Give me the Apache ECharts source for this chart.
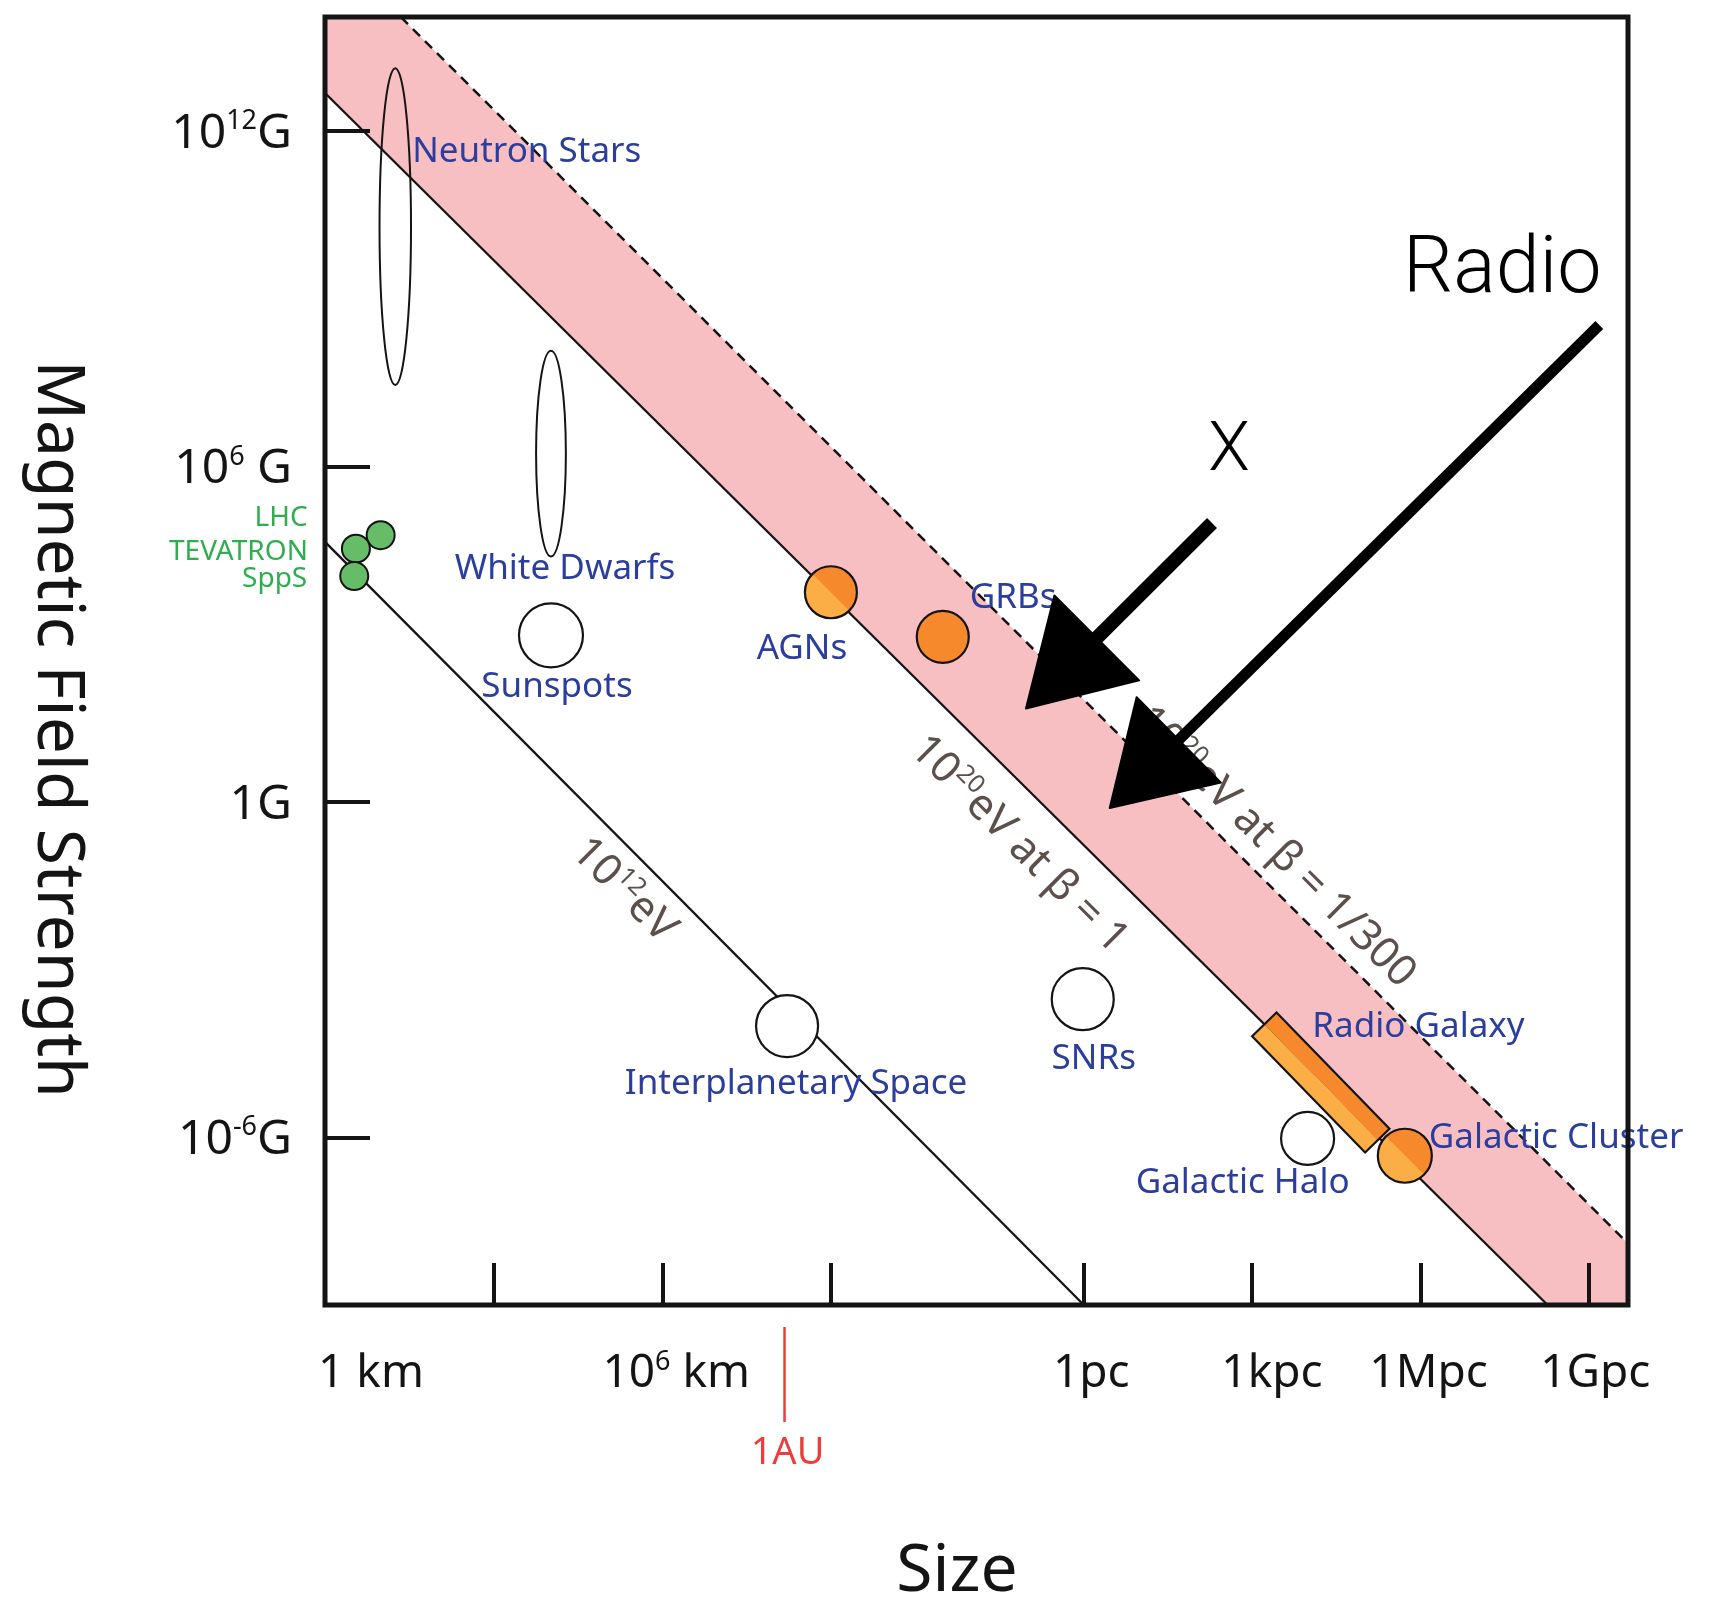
<!DOCTYPE html>
<html>
<head>
<meta charset="utf-8">
<script src="https://cdn.jsdelivr.net/npm/echarts@6.0.0/dist/echarts.min.js"></script>
<style>
html, body { margin:0; padding:0; background:#ffffff; }
#chart { width:1716px; height:1615px; }
</style>
</head>
<body>
<div id="chart"></div>
<script>
// ---------------- DATA ----------------
// x: log10(size / km), y: log10(B / gauss)
const xTickValues = [3, 6, 9, 13.49, 16.49, 19.49, 22.49];
const xLabelValues = [0, 6, 13.49, 16.49, 19.49, 22.49];
const xLabelTexts = ['1 km', '10^6 km', '1pc', '1kpc', '1Mpc', '1Gpc'];
const yTickValues = [12, 6, 0, -6];
const yLabelTexts = ['10^12G', '10^6 G', '1G', '10^-6G'];

const hillas12eV = [[0, 4.65], [13.5, -9]];
const hillas20eV = [[0, 12.68], [21.75, -9]];
const hillas20eVslow = [[1.35, 14.04], [23.18, -7.9]];
const bandVertices = [[0, 14.04], [0, 12.68], [21.75, -9], [23.18, -9], [23.18, -7.9], [1.35, 14.04]];

const ellipseNames = ['Neutron Stars', 'White Dwarfs'];
const ellipseLogR = [1.25, 4.02];
const ellipseLogB = [10.29, 6.23];
const ellipseSpanR = [0.56, 0.53];
const ellipseSpanB = [5.67, 3.68];

const accelNames = ['LHC', 'TEVATRON', 'SppS'];
const accelLogR = [0.99, 0.55, 0.52];
const accelLogB = [4.77, 4.53, 4.04];

const whiteNames = ['Sunspots', 'Interplanetary Space', 'SNRs', 'Galactic Halo'];
const whiteLogR = [4.02, 8.22, 13.48, 17.48];
const whiteLogB = [2.98, -4.01, -3.53, -6.02];

const orangeNames = ['AGNs', 'GRBs', 'Galactic Cluster'];
const orangeLogR = [9.0, 10.99, 19.21];
const orangeLogB = [3.75, 2.95, -6.33];

const radioGalaxyName = 'Radio Galaxy';
const radioGalaxyLogR = [16.71, 18.72];
const radioGalaxyLogB = [-3.98, -6.06];

const auLogKm = 8.175;

const lineLabelTexts = ['10^12eV', '10^20eV at β = 1', '10^20eV at β = 1/300'];
const lineLabelLogR = [5.35, 12.38, 16.93];
const lineLabelLogB = [-1.55, -0.73, -0.78];

const arrowTexts = ['X', 'Radio'];
const arrowTailLogR = [15.78, 22.67];
const arrowTailLogB = [4.99, 8.53];
const arrowTipLogR = [12.47, 13.96];
const arrowTipLogB = [1.67, -0.11];

// ---------------- STYLE ----------------
const FONT = '"Noto Sans", "Open Sans", "DejaVu Sans", sans-serif';
const THIN = 'Roboto, "Liberation Sans", sans-serif';
const INK = '#141414';
const BLUE = '#2b3d9d';
const GREEN = '#2fae50';
const GREY = '#5c504c';
const PINK = '#f8bfc3';
const ORANGE_DARK = '#f6892b';
const ORANGE_LIGHT = '#fbae45';
const GREEN_FILL = '#67bd67';
const AU_RED = '#ee3b3b';

const circleSize = {
  'Sunspots': 64, 'Interplanetary Space': 62, 'SNRs': 62, 'Galactic Halo': 53,
  'AGNs': 52, 'GRBs': 52, 'Galactic Cluster': 54,
  'LHC': 28, 'TEVATRON': 28, 'SppS': 28
};
const twoTone = { 'AGNs': true, 'GRBs': false, 'Galactic Cluster': true };

const labelLayout = {
  'Neutron Stars': { dx: 17, dy: -75, align: 'left' },
  'White Dwarfs': { dx: 14, dy: 115, align: 'center' },
  'Sunspots': { dx: 6, dy: 52, align: 'center' },
  'AGNs': { dx: -29, dy: 57, align: 'center' },
  'GRBs': { dx: 27, dy: -39, align: 'left' },
  'Interplanetary Space': { dx: 9, dy: 58, align: 'center' },
  'SNRs': { dx: 11, dy: 60, align: 'center' },
  'Galactic Halo': { dx: 42, dy: 45, align: 'right' },
  'Galactic Cluster': { dx: 24, dy: -18, align: 'left' },
  'Radio Galaxy': { dx: 48, dy: 3, align: 'left' },
  'LHC': { dx: -73, dy: -17, align: 'right', color: GREEN, size: 28 },
  'TEVATRON': { dx: -48, dy: 3, align: 'right', color: GREEN, size: 28 },
  'SppS': { dx: -47, dy: 3, align: 'right', color: GREEN, size: 28 }
};
const xLabelShift = [46, 14, 8, 20, 8, 6];
const arrowLayout = [
  { shaft: 14, headLen: 100, headHalf: 60, tdx: 17, tdy: -70, size: 68 },
  { shaft: 11, headLen: 97, headHalf: 60, tdx: -97, tdy: -53, size: 79 }
];

// ---------------- HELPERS ----------------
function supParts(t) {
  const m = t.match(/^(.*?)\^(-?\d+)(.*)$/);
  return m ? [m[1], m[2], m[3]] : [t, '', ''];
}
function richText(t, base, sup, lead) {
  const p = supParts(t);
  let s = '{' + (lead || base) + '|' + p[0] + '}';
  if (p[1]) s += '{' + sup + '|' + p[1] + '}';
  if (p[2]) s += '{' + base + '|' + p[2] + '}';
  return s;
}
function orangeFill(name) {
  if (!twoTone[name]) return ORANGE_DARK;
  return new echarts.graphic.LinearGradient(0, 1, 1, 0, [
    { offset: 0, color: ORANGE_LIGHT }, { offset: 0.5, color: ORANGE_LIGHT },
    { offset: 0.5, color: ORANGE_DARK }, { offset: 1, color: ORANGE_DARK }
  ]);
}

const xRich = {
  n: { fontSize: 46, fontFamily: FONT, color: INK, lineHeight: 52, verticalAlign: 'bottom' },
  s: { fontSize: 27, fontFamily: FONT, color: INK, lineHeight: 52, verticalAlign: 'top', padding: [4, 0, 0, 0] }
};
xLabelValues.forEach((v, i) => {
  xRich['a' + i] = { fontSize: 46, fontFamily: FONT, color: INK, lineHeight: 52, verticalAlign: 'bottom', padding: [0, 0, 0, 2 * xLabelShift[i]] };
});
const yRich = {
  n: { fontSize: 48, fontFamily: FONT, color: INK, lineHeight: 54, verticalAlign: 'bottom' },
  s: { fontSize: 27, fontFamily: FONT, color: INK, lineHeight: 54, verticalAlign: 'top', padding: [4, 0, 0, 0] }
};

// label anchors: object name -> data point
const labelItems = [];
ellipseNames.forEach((n, i) => labelItems.push({ name: n, value: [ellipseLogR[i], ellipseLogB[i]] }));
accelNames.forEach((n, i) => labelItems.push({ name: n, value: [accelLogR[i], accelLogB[i]] }));
whiteNames.forEach((n, i) => labelItems.push({ name: n, value: [whiteLogR[i], whiteLogB[i]] }));
orangeNames.forEach((n, i) => labelItems.push({ name: n, value: [orangeLogR[i], orangeLogB[i]] }));
labelItems.push({ name: radioGalaxyName, value: [radioGalaxyLogR[0], radioGalaxyLogB[0]] });

const lineRich = {
  n: { fontSize: 43, fontFamily: FONT, fill: GREY, color: GREY, lineHeight: 48, verticalAlign: 'bottom' },
  s: { fontSize: 25, fontFamily: FONT, fill: GREY, color: GREY, lineHeight: 48, verticalAlign: 'top', padding: [3, 0, 0, 0] }
};

// ---------------- CHART ----------------
const chart = echarts.init(document.getElementById('chart'), null, { renderer: 'canvas' });

const option = {
  animation: false,
  backgroundColor: '#ffffff',
  grid: { left: 325, right: 88, top: 17, bottom: 310, show: true, borderColor: INK, borderWidth: 5, backgroundColor: 'transparent', z: 20 },
  xAxis: {
    type: 'value', min: 0, max: 23.18, z: 21, position: 'bottom',
    axisLine: { show: false, onZero: false }, splitLine: { show: false },
    axisTick: { show: true, inside: true, length: 42, lineStyle: { color: INK, width: 4 }, customValues: xTickValues },
    axisLabel: {
      show: true, customValues: xLabelValues, margin: 40,
      formatter: (v) => {
        const i = xLabelValues.findIndex(u => Math.abs(u - v) < 1e-6);
        return i < 0 ? '' : richText(xLabelTexts[i], 'n', 's', 'a' + i);
      },
      rich: xRich
    }
  },
  yAxis: {
    type: 'value', min: -9, max: 14.04, z: 21, position: 'left',
    axisLine: { show: false, onZero: false }, splitLine: { show: false },
    axisTick: { show: true, inside: true, length: 45, lineStyle: { color: INK, width: 4 }, customValues: yTickValues },
    axisLabel: {
      show: true, customValues: yTickValues, margin: 33,
      formatter: (v) => {
        const i = yTickValues.findIndex(u => Math.abs(u - v) < 1e-6);
        return i < 0 ? '' : richText(yLabelTexts[i], 'n', 's');
      },
      rich: yRich
    }
  },
  graphic: [
    { type: 'text', x: 957, y: 1572, z: 50,
      style: { text: 'Size', fontSize: 66, fontFamily: FONT, fill: INK, align: 'center', verticalAlign: 'middle' } },
    { type: 'text', x: 57, y: 729, rotation: -Math.PI / 2, z: 50,
      style: { text: 'Magnetic Field Strength', fontSize: 66, fontFamily: FONT, fill: INK, align: 'center', verticalAlign: 'middle' } }
  ],
  series: [
    { // pink band between the two 10^20 eV lines
      type: 'custom', z: 1, silent: true, clip: false,
      data: [bandVertices[0]],
      renderItem: (params, api) => ({
        type: 'polygon',
        shape: { points: bandVertices.map(p => api.coord(p)) },
        style: { fill: PINK }
      })
    },
    { type: 'line', z: 3, silent: true, data: hillas12eV, symbol: 'none', lineStyle: { color: INK, width: 2.3 } },
    { type: 'line', z: 3, silent: true, data: hillas20eV, symbol: 'none', lineStyle: { color: INK, width: 2.3 } },
    { type: 'line', z: 3, silent: true, data: hillas20eVslow, symbol: 'none', lineStyle: { color: INK, width: 2.5, type: [10, 7] } },
    { // ellipses
      type: 'custom', z: 4, silent: true, clip: false,
      data: ellipseNames.map((n, i) => [ellipseLogR[i], ellipseLogB[i], ellipseSpanR[i], ellipseSpanB[i]]),
      renderItem: (params, api) => {
        const c = api.coord([api.value(0), api.value(1)]);
        const s = api.size([api.value(2), api.value(3)]);
        return { type: 'ellipse', shape: { cx: c[0], cy: c[1], rx: s[0] / 2, ry: s[1] / 2 },
          style: { fill: 'rgba(255,255,255,0)', stroke: INK, lineWidth: 2 } };
      }
    },
    { // white circles
      type: 'scatter', z: 5, silent: true, symbol: 'circle',
      data: whiteNames.map((n, i) => ({ name: n, value: [whiteLogR[i], whiteLogB[i]], symbolSize: circleSize[n] })),
      itemStyle: { color: '#ffffff', borderColor: INK, borderWidth: 2.2, opacity: 1 }
    },
    { // accelerators
      type: 'scatter', z: 5, silent: true, symbol: 'circle',
      data: accelNames.map((n, i) => ({ name: n, value: [accelLogR[i], accelLogB[i]], symbolSize: circleSize[n] })),
      itemStyle: { color: GREEN_FILL, borderColor: INK, borderWidth: 2, opacity: 1 }
    },
    { // radio galaxy bar
      type: 'custom', z: 5, silent: true, clip: false,
      data: [[radioGalaxyLogR[0], radioGalaxyLogB[0], radioGalaxyLogR[1], radioGalaxyLogB[1]]],
      renderItem: (params, api) => {
        const p1 = api.coord([api.value(0), api.value(1)]);
        const p2 = api.coord([api.value(2), api.value(3)]);
        const dx = p2[0] - p1[0], dy = p2[1] - p1[1];
        const len = Math.sqrt(dx * dx + dy * dy);
        const ux = dx / len, uy = dy / len;
        const nx = uy, ny = -ux, h = 17;
        const A = [p1[0] + nx * h, p1[1] + ny * h], B = [p2[0] + nx * h, p2[1] + ny * h];
        const C = [p2[0] - nx * h, p2[1] - ny * h], D = [p1[0] - nx * h, p1[1] - ny * h];
        return { type: 'group', children: [
          { type: 'polygon', shape: { points: [p1, p2, B, A] }, style: { fill: ORANGE_DARK } },
          { type: 'polygon', shape: { points: [p1, p2, C, D] }, style: { fill: ORANGE_LIGHT } },
          { type: 'polygon', shape: { points: [A, B, C, D] }, style: { fill: 'rgba(0,0,0,0)', stroke: INK, lineWidth: 2.2 } }
        ] };
      }
    },
    { // orange circles
      type: 'scatter', z: 6, silent: true, symbol: 'circle',
      data: orangeNames.map((n, i) => ({ name: n, value: [orangeLogR[i], orangeLogB[i]], symbolSize: circleSize[n],
        itemStyle: { color: orangeFill(n) } })),
      itemStyle: { borderColor: INK, borderWidth: 2.2, opacity: 1 }
    },
    { // line labels
      type: 'custom', z: 7, silent: true, clip: false,
      data: lineLabelTexts.map((t, i) => [lineLabelLogR[i], lineLabelLogB[i]]),
      renderItem: (params, api) => {
        const p = api.coord([api.value(0), api.value(1)]);
        return { type: 'text', x: p[0], y: p[1], rotation: -Math.PI / 4,
          style: { text: richText(lineLabelTexts[params.dataIndex], 'n', 's'), rich: lineRich,
            fill: GREY, fontSize: 43, fontFamily: FONT, align: 'center', verticalAlign: 'middle' } };
      }
    },
    { // object labels
      type: 'custom', z: 8, silent: true, clip: false,
      data: labelItems.map(d => d.value),
      renderItem: (params, api) => {
        const name = labelItems[params.dataIndex].name;
        const L = labelLayout[name];
        const p = api.coord([api.value(0), api.value(1)]);
        return { type: 'text', x: p[0] + L.dx, y: p[1] + L.dy,
          style: { text: name, fill: L.color || BLUE, fontSize: L.size || 35, fontFamily: FONT,
            align: L.align, verticalAlign: 'middle' } };
      }
    },
    { // 1 AU marker under the axis
      type: 'custom', z: 9, silent: true, clip: false,
      data: [[auLogKm, -9]],
      renderItem: (params, api) => {
        const p = api.coord([api.value(0), api.value(1)]);
        const bottom = params.coordSys.y + params.coordSys.height;
        return { type: 'group', children: [
          { type: 'line', shape: { x1: p[0], y1: bottom + 22, x2: p[0], y2: bottom + 117 }, style: { stroke: AU_RED, lineWidth: 2.5 } },
          { type: 'text', x: p[0] + 3, y: bottom + 148, style: { text: '1AU', fill: AU_RED, fontSize: 38, fontFamily: FONT, align: 'center', verticalAlign: 'middle' } }
        ] };
      }
    },
    { // arrows with captions
      type: 'custom', z: 30, silent: true, clip: false,
      data: arrowTexts.map((t, i) => [arrowTailLogR[i], arrowTailLogB[i], arrowTipLogR[i], arrowTipLogB[i]]),
      renderItem: (params, api) => {
        const L = arrowLayout[params.dataIndex];
        const t = api.coord([api.value(0), api.value(1)]);
        const h = api.coord([api.value(2), api.value(3)]);
        const dx = h[0] - t[0], dy = h[1] - t[1];
        const len = Math.sqrt(dx * dx + dy * dy);
        const ux = dx / len, uy = dy / len;
        const nx = -uy, ny = ux;
        const base = [h[0] - ux * L.headLen, h[1] - uy * L.headLen];
        return { type: 'group', children: [
          { type: 'line', shape: { x1: t[0], y1: t[1], x2: base[0] + ux * 10, y2: base[1] + uy * 10 },
            style: { stroke: '#000', lineWidth: L.shaft, lineCap: 'butt' } },
          { type: 'polygon', shape: { points: [h, [base[0] + nx * L.headHalf, base[1] + ny * L.headHalf], [base[0] - nx * L.headHalf, base[1] - ny * L.headHalf]] },
            style: { fill: '#000', stroke: '#000', lineWidth: 2, lineJoin: 'round' } },
          { type: 'text', x: t[0] + L.tdx, y: t[1] + L.tdy,
            style: { text: arrowTexts[params.dataIndex], fill: '#000', fontSize: L.size, fontWeight: 300, fontFamily: THIN, align: 'center', verticalAlign: 'middle' } }
        ] };
      }
    }
  ]
};
chart.setOption(option);
</script>
</body>
</html>
